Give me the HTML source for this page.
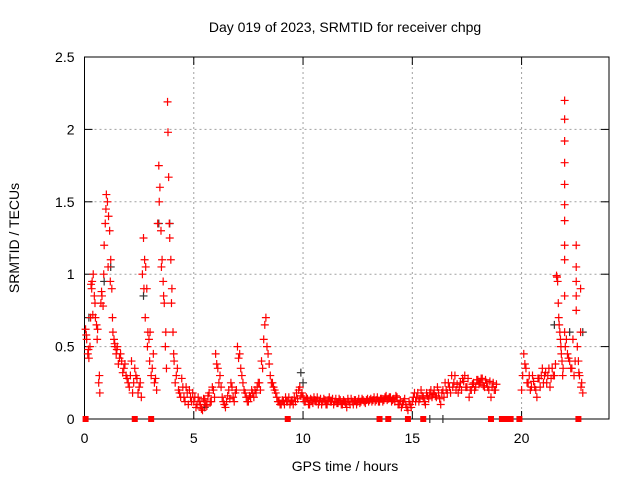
<!DOCTYPE html>
<html><head><meta charset="utf-8"><style>
html,body{margin:0;padding:0;background:#fff}
svg{display:block;font-family:"Liberation Sans",sans-serif}
</style></head><body>
<svg id="chart" width="640" height="480">
<text x="345" y="32" text-anchor="middle" font-size="14">Day 019 of 2023, SRMTID for receiver chpg</text>
<g id="grid"></g>
<g id="axes"></g>
<g id="marks"></g>
<text x="345" y="471" text-anchor="middle" font-size="14">GPS time / hours</text>
<text transform="translate(19,238) rotate(-90)" text-anchor="middle" font-size="14">SRMTID / TECUs</text>
</svg>
<script>
const xTicks=[0,5,10,15,20];
const yTicks=[0,0.5,1,1.5,2,2.5];
const yTickLabels=["0","0.5","1","1.5","2","2.5"];
const hours=[0.05,0.1,0.15,0.2,0.25,0.3,0.35,0.4,0.45,0.5,0.55,0.6,0.65,0.7,0.75,0.8,0.85,0.9,0.95,1.0,1.05,1.1,1.15,1.2,1.25,1.3,1.35,1.4,1.45,1.5,1.6,1.7,1.8,1.9,2.0,2.1,2.2,2.3,2.4,2.5,2.6,2.7,2.75,2.8,2.85,2.9,2.95,3.0,3.1,3.2,3.3,3.4,3.45,3.5,3.55,3.6,3.65,3.7,3.75,3.8,3.82,3.85,3.9,3.95,4.0,4.05,4.1,4.2,4.3,4.4,4.5,4.6,4.7,4.8,4.9,
5.0,5.1,5.2,5.3,5.4,5.5,5.6,5.7,5.8,5.9,6.0,6.1,6.2,6.3,6.4,6.5,6.6,6.7,6.8,6.9,7.0,7.1,7.2,7.3,7.4,7.5,7.6,7.7,7.8,7.9,8.0,8.1,8.2,8.3,8.4,8.5,8.6,8.7,8.8,8.9,9.0,9.1,9.2,9.3,9.4,9.5,9.6,9.7,9.8,9.9,
10.0,10.1,10.2,10.3,10.4,10.5,10.6,10.7,10.8,10.9,11.0,11.1,11.2,11.3,11.4,11.5,11.6,11.7,11.8,11.9,12.0,12.1,12.2,12.3,12.4,12.5,12.6,12.7,12.8,12.9,13.0,13.1,13.2,13.3,13.4,13.5,13.6,13.7,13.8,13.9,14.0,14.1,14.2,14.3,14.4,14.5,14.6,14.7,14.8,14.9,
15.0,15.1,15.2,15.3,15.4,15.5,15.6,15.7,15.8,15.9,16.0,16.1,16.2,16.3,16.4,16.5,16.6,16.7,16.8,16.9,17.0,17.1,17.2,17.3,17.4,17.5,17.6,17.7,17.8,17.9,18.0,18.1,18.2,18.3,18.4,18.5,18.6,18.7,18.8,
20.0,20.1,20.2,20.3,20.4,20.5,20.6,20.7,20.8,20.9,21.0,21.1,21.2,21.3,21.4,21.5,21.6,21.65,21.7,21.75,21.8,21.85,21.9,
21.97,21.97,21.97,21.97,21.97,21.97,21.97,21.97,21.97,21.97,21.97,22.0,22.1,22.2,22.3,22.4,22.5,22.5,22.5,22.5,22.5,22.55,22.6,22.65,22.7,22.7,22.75,22.8];
const srmtid=[0.62,0.55,0.45,0.42,0.5,0.93,0.95,1.0,0.85,0.7,0.65,0.62,0.25,0.18,0.8,0.85,0.78,1.2,1.35,1.55,1.5,1.4,1.3,1.1,0.9,0.6,0.55,0.5,0.45,0.5,0.42,0.4,0.35,0.3,0.25,0.3,0.18,0.35,0.28,0.22,0.15,1.25,1.1,1.05,0.9,0.6,0.55,0.6,0.35,0.25,0.2,1.75,1.6,1.3,1.1,0.95,0.8,0.5,0.35,2.19,1.98,1.67,1.25,1.1,0.9,0.6,0.4,0.3,0.2,0.15,0.22,0.12,0.18,0.2,0.12,
0.12,0.08,0.15,0.1,0.06,0.13,0.09,0.18,0.12,0.2,0.45,0.35,0.3,0.15,0.1,0.12,0.2,0.25,0.15,0.18,0.5,0.45,0.3,0.2,0.15,0.12,0.15,0.18,0.2,0.22,0.25,0.4,0.55,0.7,0.45,0.3,0.25,0.2,0.15,0.12,0.1,0.12,0.15,0.12,0.1,0.13,0.15,0.18,0.2,0.16,
0.15,0.12,0.14,0.1,0.13,0.15,0.12,0.1,0.14,0.12,0.13,0.1,0.15,0.12,0.1,0.14,0.11,0.13,0.1,0.12,0.08,0.12,0.14,0.1,0.13,0.12,0.11,0.14,0.12,0.13,0.12,0.14,0.13,0.12,0.15,0.12,0.14,0.13,0.16,0.14,0.15,0.13,0.12,0.15,0.1,0.08,0.12,0.1,0.06,0.1,
0.12,0.18,0.15,0.12,0.2,0.15,0.1,0.16,0.18,0.15,0.2,0.15,0.18,0.1,0.2,0.25,0.18,0.22,0.3,0.25,0.2,0.18,0.25,0.28,0.3,0.22,0.15,0.2,0.25,0.22,0.27,0.25,0.28,0.22,0.25,0.2,0.15,0.25,0.2,
0.2,0.45,0.35,0.25,0.2,0.3,0.22,0.15,0.28,0.3,0.25,0.32,0.3,0.22,0.35,0.3,0.99,0.95,0.7,0.6,0.5,0.4,0.35,
2.2,2.07,1.92,1.77,1.62,1.48,1.37,1.2,1.1,0.85,0.6,0.5,0.45,0.4,0.35,0.3,1.2,1.05,0.95,0.85,0.75,0.5,0.4,0.3,0.9,0.6,0.25,0.18];
/* additional readings interleaved between the primary ones */
const hoursB=[0.08,0.18,0.28,0.33,0.38,0.48,0.58,0.68,0.78,0.88,0.98,1.08,1.18,1.28,1.38,1.48,1.55,1.65,1.75,1.85,1.95,2.05,2.15,2.25,2.35,2.45,2.55,2.65,2.72,2.78,2.88,2.98,3.05,3.15,3.25,3.35,3.42,3.52,3.62,3.72,3.88,3.98,4.08,4.15,4.25,4.35,4.45,4.55,4.65,4.75,4.85,4.95,
5.05,5.15,5.25,5.35,5.45,5.55,5.65,5.75,5.85,5.95,6.05,6.15,6.25,6.35,6.45,6.55,6.65,6.75,6.85,6.95,7.05,7.15,7.25,7.35,7.45,7.55,7.65,7.75,7.85,7.95,8.05,8.15,8.25,8.35,8.45,8.55,8.65,8.75,8.85,8.95,9.05,9.15,9.25,9.35,9.45,9.55,9.65,9.75,9.85,9.95,
10.05,10.15,10.25,10.35,10.45,10.55,10.65,10.75,10.85,10.95,11.05,11.15,11.25,11.35,11.45,11.55,11.65,11.75,11.85,11.95,12.05,12.15,12.25,12.35,12.45,12.55,12.65,12.75,12.85,12.95,13.05,13.15,13.25,13.35,13.45,13.55,13.65,13.75,13.85,13.95,14.05,14.15,14.25,14.35,14.45,14.55,14.65,14.75,14.85,14.95,
15.05,15.15,15.25,15.35,15.45,15.55,15.65,15.75,15.85,15.95,16.05,16.15,16.25,16.35,16.45,16.55,16.65,16.75,16.85,16.95,17.05,17.15,17.25,17.35,17.45,17.55,17.65,17.75,17.85,17.95,18.05,18.15,18.25,18.35,18.45,18.55,18.65,18.75,18.85,
20.05,20.15,20.25,20.35,20.45,20.55,20.65,20.75,20.85,20.95,21.05,21.15,21.25,21.35,21.45,21.55,21.62,21.68,21.72,21.78,21.82,21.88,22.05,22.15,22.25,22.35,22.45,22.62,22.72];
const srmtidB=[0.58,0.48,0.7,0.9,0.72,0.8,0.55,0.3,0.88,1.0,1.45,1.05,0.95,0.7,0.52,0.48,0.38,0.45,0.32,0.38,0.28,0.22,0.4,0.25,0.3,0.18,0.25,1.0,0.9,0.7,0.5,0.4,0.3,0.45,0.28,1.35,1.5,1.05,0.85,0.6,1.35,0.8,0.45,0.25,0.35,0.18,0.28,0.15,0.22,0.1,0.15,0.18,
0.15,0.1,0.12,0.07,0.14,0.1,0.16,0.12,0.22,0.15,0.38,0.25,0.22,0.12,0.08,0.16,0.14,0.22,0.12,0.2,0.42,0.35,0.25,0.18,0.12,0.16,0.2,0.15,0.18,0.25,0.2,0.35,0.65,0.5,0.38,0.25,0.22,0.18,0.12,0.1,0.13,0.1,0.12,0.15,0.12,0.1,0.12,0.14,0.22,0.18,
0.12,0.15,0.1,0.14,0.11,0.13,0.15,0.12,0.1,0.14,0.1,0.13,0.12,0.14,0.12,0.11,0.14,0.1,0.13,0.11,0.14,0.1,0.12,0.13,0.1,0.14,0.12,0.13,0.11,0.14,0.13,0.12,0.15,0.13,0.12,0.14,0.12,0.15,0.13,0.15,0.12,0.14,0.16,0.1,0.13,0.1,0.14,0.08,0.12,0.08,
0.15,0.12,0.18,0.14,0.16,0.12,0.18,0.14,0.2,0.17,0.16,0.22,0.14,0.18,0.15,0.2,0.25,0.18,0.22,0.3,0.24,0.22,0.2,0.26,0.22,0.28,0.2,0.24,0.2,0.27,0.24,0.28,0.23,0.27,0.22,0.26,0.22,0.2,0.24,
0.3,0.38,0.25,0.3,0.22,0.26,0.2,0.28,0.22,0.35,0.3,0.25,0.35,0.28,0.3,0.38,0.98,0.8,0.65,0.55,0.45,0.3,0.55,0.42,0.35,0.55,0.4,0.32,0.22];
const hours2=[0.2,0.9,1.2,2.7,3.4,3.9,5.5,9.9,10.0,15.8,16.4,21.5,22.2,22.8];
const srmtid2=[0.7,0.95,1.05,0.85,1.35,1.35,0.08,0.32,0.25,0.0,0.0,0.65,0.6,0.6];
const dropouts=[0.05,2.3,3.05,9.3,13.5,13.9,14.8,15.5,18.6,19.1,19.3,19.5,19.9,22.6];
const L=84.5,R=609,T=57,B=419,XMAX=24,YMAX=2.5;
const xs=v=>L+v/XMAX*(R-L), ys=v=>B-v/YMAX*(B-T);
const NS="http://www.w3.org/2000/svg";
function mk(tag,attrs,parent){const e=document.createElementNS(NS,tag);for(const k in attrs)e.setAttribute(k,attrs[k]);parent.appendChild(e);return e;}
const grid=document.getElementById('grid'),axes=document.getElementById('axes'),marks=document.getElementById('marks');
yTicks.forEach((v,i)=>{
 if(v>0&&v<YMAX){const g=mk('line',{x1:L,x2:R,y1:ys(v),y2:ys(v),stroke:'#a0a0a0','stroke-dasharray':'2,3'},grid);
 
 }
 mk('line',{x1:L,x2:L+8,y1:ys(v),y2:ys(v),stroke:'#000'},axes);
 mk('line',{x1:R-8,x2:R,y1:ys(v),y2:ys(v),stroke:'#000'},axes);
 const t=mk('text',{x:L-10,y:ys(v)+5,'text-anchor':'end','font-size':14},axes);t.textContent=yTickLabels[i];
 
 
});
xTicks.forEach(v=>{
 if(v>0){const g=mk('line',{x1:xs(v),x2:xs(v),y1:T,y2:B,stroke:'#a0a0a0','stroke-dasharray':'2,3'},grid);
 
 }
 mk('line',{x1:xs(v),x2:xs(v),y1:B,y2:B-8,stroke:'#000'},axes);
 mk('line',{x1:xs(v),x2:xs(v),y1:T,y2:T+8,stroke:'#000'},axes);
 const t=mk('text',{x:xs(v),y:B+24,'text-anchor':'middle','font-size':14},axes);t.textContent=String(v);
 
 
});
const frame=mk('rect',{x:L,y:T,width:R-L,height:B-T,fill:'none',stroke:'#000'},axes);


function plus(x,y,c,name){const p=mk('path',{d:`M${x-4},${y}h8M${x},${y-4}v8`,stroke:c,'stroke-width':1.2,fill:'none'},marks);
 
 }
hours2.forEach((h,i)=>plus(xs(h),ys(srmtid2[i]),'#333','srmtid-point-secondary'));
hours.forEach((h,i)=>plus(xs(h),ys(srmtid[i]),'#f00','srmtid-point'));
hoursB.forEach((h,i)=>plus(xs(h),ys(srmtidB[i]),'#f00','srmtid-point'));
dropouts.forEach(h=>{const r=mk('rect',{x:xs(h)-3,y:B-3,width:6,height:6,fill:'#f00'},marks);
 
 });
</script>
</body></html>
